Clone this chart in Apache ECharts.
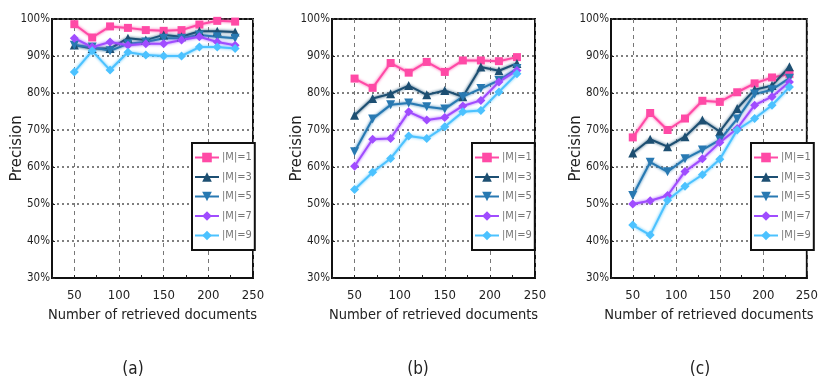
<!DOCTYPE html>
<html>
<head>
<meta charset="utf-8">
<script src="https://cdn.jsdelivr.net/npm/echarts@6/dist/echarts.min.js"></script>
<style>
  html, body { margin: 0; padding: 0; background: #fff; }
  #chart { width: 821px; height: 390px; }
</style>
</head>
<body>
<div id="chart"></div>
<script>
// number of retrieved documents
const docCounts = [50, 70, 90, 110, 130, 150, 170, 190, 210, 230];
const seriesNames = ['|M|=1', '|M|=3', '|M|=5', '|M|=7', '|M|=9'];
const yTicks = [30, 40, 50, 60, 70, 80, 90, 100];

// panel (a)
const a_m1 = [98.6, 95.0, 98.0, 97.6, 97.0, 96.8, 97.0, 98.5, 99.5, 99.3];
const a_m3 = [93.0, 92.0, 92.0, 94.8, 94.3, 95.7, 95.2, 96.7, 96.7, 96.5];
const a_m5 = [92.9, 92.4, 91.4, 93.3, 93.8, 94.8, 94.8, 95.7, 95.2, 94.8];
const a_m7 = [94.8, 92.4, 93.8, 92.9, 93.3, 93.3, 94.3, 95.2, 93.8, 92.9];
const a_m9 = [85.7, 91.4, 86.2, 91.0, 90.3, 90.0, 90.0, 92.4, 92.4, 92.0];

// panel (b)
const b_m1 = [83.9, 81.4, 88.1, 85.5, 88.4, 85.7, 88.8, 88.8, 88.6, 89.7];
const b_m3 = [74.0, 78.5, 79.8, 82.0, 79.5, 80.7, 79.0, 87.0, 86.0, 88.0];
const b_m5 = [64.1, 73.0, 76.8, 77.3, 76.3, 75.7, 79.0, 81.2, 83.4, 86.6];
const b_m7 = [60.2, 67.5, 67.7, 74.9, 72.7, 73.4, 76.5, 78.0, 83.0, 86.1];
const b_m9 = [53.9, 58.6, 62.3, 68.4, 67.7, 70.9, 74.9, 75.3, 80.3, 85.2];

// panel (c)
const c_m1 = [68.0, 74.6, 70.0, 73.1, 77.9, 77.6, 80.2, 82.6, 84.2, 85.1];
const c_m3 = [63.8, 67.5, 65.5, 68.2, 72.7, 69.6, 75.8, 80.9, 82.0, 87.1];
const c_m5 = [52.3, 61.3, 58.7, 62.2, 64.6, 67.3, 73.0, 79.7, 80.9, 84.0];
const c_m7 = [50.0, 50.9, 52.3, 58.8, 62.2, 66.6, 70.4, 76.7, 79.0, 83.0];
const c_m9 = [44.3, 41.6, 51.0, 54.8, 57.9, 62.1, 70.0, 73.1, 76.7, 81.6];

const panelData = [
  [a_m1, a_m3, a_m5, a_m7, a_m9],
  [b_m1, b_m3, b_m5, b_m7, b_m9],
  [c_m1, c_m3, c_m5, c_m7, c_m9]
];
const captions = ['(a)', '(b)', '(c)'];

const FONT = '"Liberation Sans Narrow", "DejaVu Sans Condensed", "Liberation Sans", sans-serif';
const colors = ['#ff4aa6', '#1d4f72', '#2879b2', '#a04cff', '#4cc2ff'];
const symbols = ['rect', 'triangle', 'triangle', 'diamond', 'diamond'];
const rotates = [0, 0, 180, 0, 0];

// panel layout
const gridLefts = [52, 332, 611];
const gridWidths = [201, 203, 203];
const legendLefts = [192, 472, 751];
const captionX = [133, 418, 700];

const chart = echarts.init(document.getElementById('chart'));

const grids = [], xAxes = [], yAxes = [], legends = [], series = [], graphics = [];

gridLefts.forEach((left, p) => {
  grids.push({
    left: left, top: 19, width: gridWidths[p], height: 259,
    show: true, borderColor: '#111', borderWidth: 2, backgroundColor: 'transparent'
  });
  xAxes.push({
    gridIndex: p, type: 'value', min: 25, max: 250, interval: 25,
    name: 'Number of retrieved documents', nameLocation: 'middle', nameGap: 30,
    nameTextStyle: { fontFamily: FONT, fontSize: 14.5, color: '#222' },
    axisLine: { show: true, onZero: false, lineStyle: { color: '#111', width: 2 } },
    axisTick: { show: true, inside: true, length: 3, lineStyle: { color: '#222' } },
    axisLabel: {
      fontFamily: FONT, fontSize: 13, color: '#222', margin: 11,
      formatter: v => (v % 50 === 0 ? String(v) : '')
    },
    splitLine: {
      show: true,
      lineStyle: { color: ['rgba(0,0,0,0)', '#777'], type: [4, 4], width: 1 }
    }
  });
  yAxes.push({
    gridIndex: p, type: 'value', min: yTicks[0], max: yTicks[yTicks.length - 1], interval: 10,
    name: 'Precision', nameLocation: 'middle', nameGap: 27, nameMoveOverlap: false,
    nameTextStyle: { fontFamily: FONT, fontSize: 16.5, color: '#222' },
    axisLine: { show: true, lineStyle: { color: '#111', width: 2 } },
    axisTick: { show: true, inside: true, length: 3, lineStyle: { color: '#222' } },
    axisLabel: { fontFamily: FONT, fontSize: 11.5, color: '#222', margin: 2, formatter: '{value}%' },
    splitLine: { show: true, lineStyle: { color: '#555', type: [2, 3], width: 1.5 } }
  });
  legends.push({
    data: seriesNames, orient: 'vertical', left: legendLefts[p], top: 143,
    padding: [9, 3, 9, 2], itemGap: 8.5, itemWidth: 24, itemHeight: 12,
    backgroundColor: '#fff', borderColor: '#111', borderWidth: 2, borderRadius: 0,
    textStyle: { fontFamily: FONT, fontSize: 11, color: '#777', padding: [0, 0, 0, -2] }
  });
  panelData[p].forEach((vals, s) => {
    series.push({
      name: seriesNames[s], type: 'line', xAxisIndex: p, yAxisIndex: p,
      data: docCounts.map((x, i) => [x, vals[i]]),
      symbol: symbols[s], symbolRotate: rotates[s], symbolSize: s === 0 ? 8 : 9,
      showAllSymbol: true,
      lineStyle: { color: colors[s], width: 2, shadowBlur: 3, shadowColor: colors[s] },
      itemStyle: { color: colors[s] },
      emphasis: { disabled: true },
      animation: false
    });
  });
  graphics.push({
    type: 'text', x: captionX[p], y: 370,
    style: { text: captions[p], font: '17px ' + FONT, fill: '#222', textAlign: 'center', textVerticalAlign: 'middle' }
  });
});

chart.setOption({
  animation: false,
  grid: grids,
  xAxis: xAxes,
  yAxis: yAxes,
  legend: legends,
  series: series,
  graphic: graphics
});
</script>
</body>
</html>
